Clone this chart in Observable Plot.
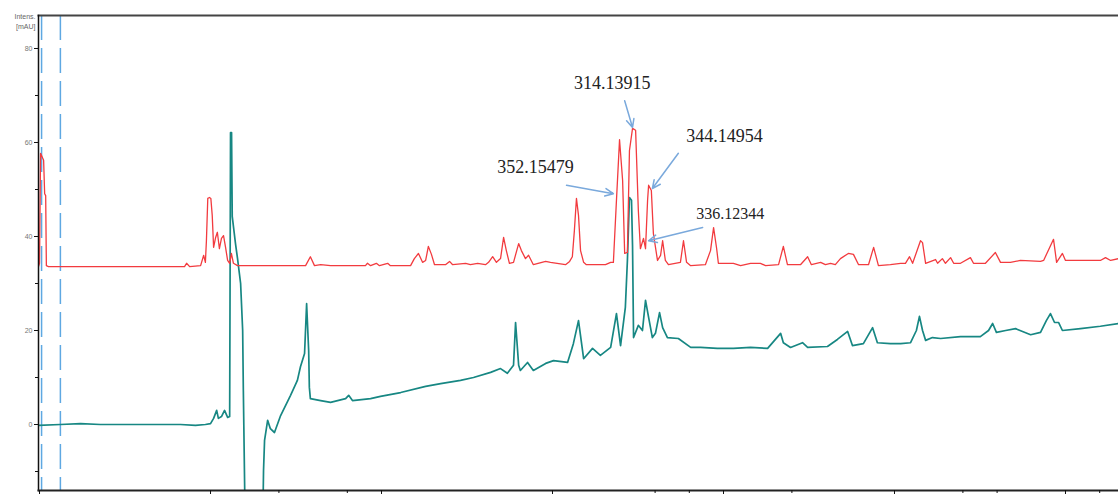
<!DOCTYPE html>
<html>
<head>
<meta charset="utf-8">
<script src="https://cdn.jsdelivr.net/npm/d3@7"></script>
<script src="https://cdn.jsdelivr.net/npm/@observablehq/plot@0.6"></script>
<style>
  html, body { margin: 0; padding: 0; background: #fff; }
  #chart svg { display: block; }
</style>
</head>
<body>
<div id="chart"></div>
<script>
// Retention time (min) and intensity (mAU) for the two traces
const redTrace = [[-0.03,33.6],[0,34.3],[0.03,57.7],[0.12,56.2],[0.15,49.1],[0.18,48.7],[0.20,33.8],[0.26,33.6],[3.25,33.6],[4.24,33.6],[4.30,34.3],[4.39,33.6],[4.71,33.8],[4.80,36.0],[4.85,34.5],[4.88,39.1],[4.92,48.1],[4.97,48.3],[5.01,48.1],[5.05,44.5],[5.09,37.7],[5.15,39.8],[5.20,40.9],[5.26,37.4],[5.32,39.6],[5.38,40.2],[5.44,37.7],[5.50,34.9],[5.56,34.3],[5.61,36.4],[5.67,34.3],[5.79,33.8],[7.78,33.8],[7.92,35.7],[8.04,33.8],[8.22,34.0],[8.51,33.8],[9.53,33.8],[9.59,34.3],[9.68,33.8],[9.85,34.3],[9.94,33.8],[10.18,34.3],[10.26,33.8],[10.85,33.8],[10.96,35.3],[11.08,36.4],[11.20,34.5],[11.29,34.9],[11.37,37.9],[11.46,36.2],[11.55,34.0],[11.87,34.0],[11.99,34.7],[12.08,34.0],[12.46,34.3],[12.60,34.0],[12.81,34.3],[13.04,34.0],[13.13,34.5],[13.25,35.7],[13.36,34.5],[13.48,35.3],[13.57,39.8],[13.65,37.0],[13.74,34.3],[13.86,34.5],[14.01,38.5],[14.09,37.0],[14.21,35.3],[14.30,36.0],[14.44,34.0],[14.80,34.7],[14.94,34.5],[15.38,34.0],[15.50,34.7],[15.58,35.7],[15.64,41.3],[15.70,48.1],[15.76,44.5],[15.82,37.0],[15.91,34.5],[15.99,34.0],[16.55,34.0],[16.70,34.5],[16.78,34.5],[16.87,47.7],[16.96,60.6],[17.05,51.9],[17.11,36.4],[17.19,36.6],[17.25,58.3],[17.34,63.0],[17.43,62.6],[17.51,45.5],[17.57,37.4],[17.66,39.6],[17.72,37.4],[17.78,47.7],[17.81,50.9],[17.89,49.8],[17.95,40.6],[18.07,34.9],[18.16,36.0],[18.22,39.1],[18.30,34.9],[18.39,34.0],[18.74,34.5],[18.83,39.1],[18.92,34.5],[19.04,33.8],[19.47,34.0],[19.62,37.0],[19.71,41.9],[19.80,37.4],[19.85,34.3],[20.29,34.3],[20.50,33.8],[20.79,34.3],[21.08,34.3],[21.23,33.8],[21.61,34.0],[21.75,37.9],[21.87,34.0],[22.25,34.0],[22.46,35.7],[22.57,34.0],[22.84,34.5],[22.98,34.0],[23.13,34.3],[23.27,34.0],[23.42,35.3],[23.65,36.4],[23.80,36.2],[23.95,34.0],[24.24,34.0],[24.39,37.7],[24.53,33.8],[24.88,34.0],[25.18,34.3],[25.32,34.3],[25.44,35.7],[25.53,34.3],[25.76,39.1],[25.82,38.7],[25.91,34.3],[26.20,35.1],[26.26,34.3],[26.40,35.3],[26.49,34.3],[26.64,35.5],[26.73,34.3],[26.93,34.3],[27.22,35.5],[27.31,34.3],[27.66,34.3],[27.95,36.6],[28.10,34.5],[28.39,34.5],[28.68,34.9],[29.27,34.7],[29.36,34.9],[29.65,39.4],[29.74,34.5],[29.91,36.4],[30.00,34.9],[31.02,34.9],[31.17,35.5],[31.32,34.9],[31.55,35.3]];

const tealTrace = [[-0.03,-0.2],[0.61,0],[1.20,0.2],[1.78,0],[2.37,0],[2.95,0],[3.54,0],[4.12,0],[4.56,-0.2],[4.85,0],[5.00,0.2],[5.09,1.3],[5.18,3.0],[5.23,1.3],[5.32,1.7],[5.41,3.0],[5.50,1.5],[5.56,1.7],[5.585,62.1],[5.615,62.1],[5.635,44.3],[5.73,38.5],[5.79,35.3],[5.88,30.0],[5.94,20.0],[5.96,7.2],[6.02,-25],[6.52,-25],[6.55,-9.8],[6.58,-3.4],[6.67,0.9],[6.75,-0.9],[6.87,-1.7],[7.05,1.9],[7.34,6.2],[7.54,9.4],[7.63,12.3],[7.75,15.1],[7.81,25.7],[7.87,15.7],[7.89,7.9],[7.92,5.5],[8.22,5.1],[8.51,4.7],[8.95,5.5],[9.04,6.2],[9.15,5.1],[9.68,5.5],[9.97,6.0],[10.56,6.8],[11.29,8.1],[11.73,8.7],[12.31,9.4],[12.69,10.0],[13.19,11.1],[13.48,11.9],[13.68,10.9],[13.86,12.6],[13.92,21.7],[14.01,12.6],[14.06,11.5],[14.27,13.2],[14.44,11.5],[14.80,13.0],[15.03,13.6],[15.44,13.2],[15.61,17.2],[15.76,22.1],[15.91,14.0],[16.17,16.2],[16.40,14.7],[16.70,16.4],[16.87,23.6],[16.99,16.8],[17.13,24.9],[17.19,34.9],[17.25,48.3],[17.31,47.7],[17.34,38.1],[17.37,18.5],[17.51,21.1],[17.63,20.0],[17.72,26.4],[17.81,22.8],[17.92,18.5],[18.01,19.4],[18.13,23.8],[18.22,20.6],[18.36,18.5],[18.68,18.3],[19.04,16.4],[19.33,16.4],[19.82,16.2],[20.29,16.2],[20.79,16.4],[21.29,16.2],[21.67,19.4],[21.75,17.4],[21.96,16.4],[22.31,17.4],[22.46,16.4],[23.04,16.6],[23.33,18.1],[23.63,19.8],[23.77,16.8],[24.09,17.2],[24.36,20.6],[24.50,17.4],[24.88,17.2],[25.18,17.2],[25.47,17.4],[25.64,20.0],[25.73,23.0],[25.82,20.0],[25.91,17.9],[26.11,18.5],[26.35,18.3],[26.93,18.7],[27.51,18.7],[27.75,20.0],[27.87,21.5],[27.98,19.6],[28.25,20.0],[28.54,20.4],[28.98,19.1],[29.27,19.6],[29.44,22.1],[29.56,23.6],[29.68,21.7],[29.80,21.7],[29.91,20.0],[30.44,20.4],[31.02,20.9],[31.55,21.5]];

// Dashed time markers (min)
const markerTimes = [0.06, 0.61];

// Axis ticks
const yMajorTicks = [0, 20, 40, 60, 80];
const yMinorTicks = [-10, 10, 30, 50, 70];
const xMajorTicks = [0, 5, 10, 15, 20, 25, 30];
const xMinorTicks = [7, 9, 18, 19, 22, 27, 28, 31];

// Peak annotations (m/z labels), in data coordinates
const annLabels = ["314.13915", "344.14954", "352.15479", "336.12344"];
const annTextT  = [16.75, 20.03, 14.50, 20.20];
const annTextV  = [71.3, 60.2, 53.6, 43.8];
const annFromT  = [17.11, 18.68, 15.41, 19.39];
const annFromV  = [68.9, 57.7, 50.9, 41.9];
const annToT    = [17.34, 17.92, 16.78, 17.81];
const annToV    = [63.2, 50.2, 49.1, 39.1];
const annSize   = [18, 18, 18, 16];

const annotations = annLabels.map((label, i) => ({
  label, tx: annTextT[i], tv: annTextV[i],
  x1: annFromT[i], y1: annFromV[i], x2: annToT[i], y2: annToV[i], size: annSize[i]
}));

const chart = Plot.plot({
  width: 1118,
  height: 495,
  marginLeft: 38,
  marginRight: 0,
  marginTop: 15,
  marginBottom: 5,
  style: {background: "#fff", overflow: "visible"},
  x: {domain: [-0.03, 31.55], axis: null},
  y: {domain: [-14.04, 87.02], axis: null},
  marks: [
    Plot.ruleX(markerTimes, {stroke: "#5ea8e2", strokeWidth: 1.5, strokeDasharray: "25,8"}),
    Plot.line(tealTrace, {x: d => d[0], y: d => d[1], stroke: "#178783", strokeWidth: 1.7, clip: true}),
    Plot.line(redTrace, {x: d => d[0], y: d => d[1], stroke: "#f23b3f", strokeWidth: 1.3, clip: true}),
    Plot.frame({anchor: "top", stroke: "#444", strokeWidth: 2}),
    Plot.frame({anchor: "left", stroke: "#111", strokeWidth: 1.5}),
    Plot.frame({anchor: "bottom", stroke: "#222", strokeWidth: 2}),
    Plot.axisY({ticks: yMajorTicks, tickSize: 4, tickPadding: 2, fontSize: 7, fill: "#777", stroke: "#111", label: null, fontFamily: "Liberation Sans"}),
    Plot.axisY({ticks: yMinorTicks, tickSize: 3, tickFormat: () => "", stroke: "#111", label: null}),
    Plot.axisX({ticks: xMajorTicks, anchor: "bottom", tickSize: 4, tickFormat: () => "", stroke: "#111", label: null}),
    Plot.axisX({ticks: xMinorTicks, anchor: "bottom", tickSize: 3, tickFormat: () => "", stroke: "#111", label: null}),
    Plot.text(["Intens.\n[mAU]"], {frameAnchor: "top-left", dx: -3, dy: -3, textAnchor: "end", lineAnchor: "top", lineHeight: 1.4, fontSize: 7, fill: "#666", fontFamily: "Liberation Sans"}),
    Plot.arrow(annotations, {x1: "x1", y1: "y1", x2: "x2", y2: "y2", stroke: "#7aa9dc", strokeWidth: 1.5, headLength: 9, headAngle: 50}),
    Plot.text(annotations, {x: "tx", y: "tv", text: "label", fontSize: d => d.size, fontFamily: "Liberation Serif", fill: "#222", lineAnchor: "bottom"})
  ]
});

document.getElementById("chart").appendChild(chart);
</script>
</body>
</html>
